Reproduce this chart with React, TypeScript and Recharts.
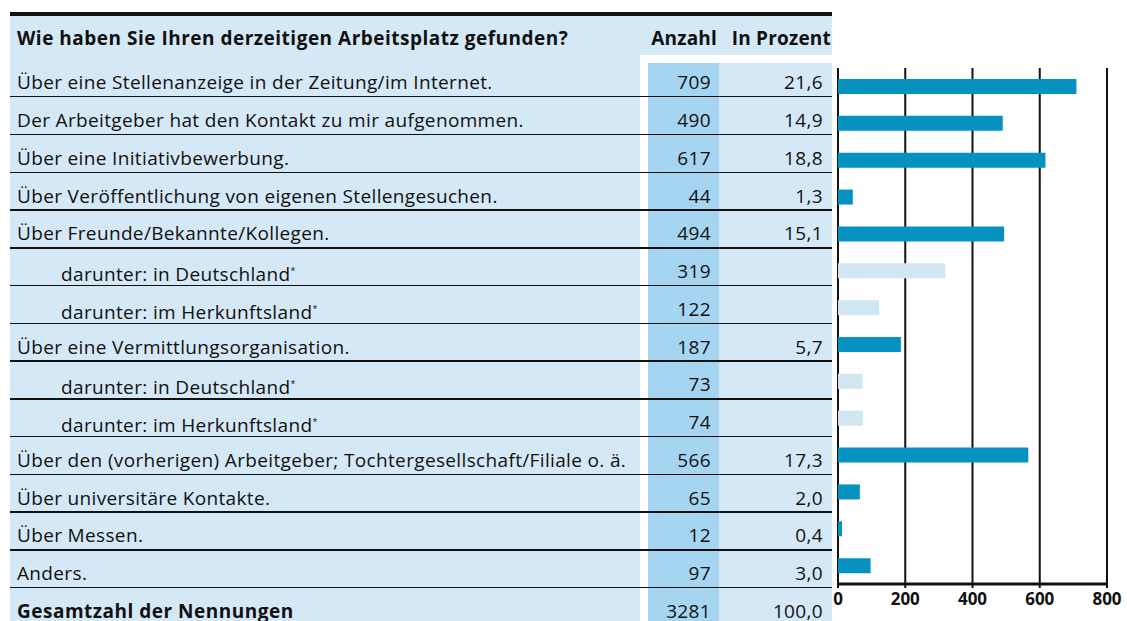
import { Bar, BarChart, CartesianGrid, Cell, XAxis, YAxis } from "recharts"

const question = "Wie haben Sie Ihren derzeitigen Arbeitsplatz gefunden?"
const labels = [
  "Über eine Stellenanzeige in der Zeitung/im Internet.",
  "Der Arbeitgeber hat den Kontakt zu mir aufgenommen.",
  "Über eine Initiativbewerbung.",
  "Über Veröffentlichung von eigenen Stellengesuchen.",
  "Über Freunde/Bekannte/Kollegen.",
  "darunter: in Deutschland",
  "darunter: im Herkunftsland",
  "Über eine Vermittlungsorganisation.",
  "darunter: in Deutschland",
  "darunter: im Herkunftsland",
  "Über den (vorherigen) Arbeitgeber; Tochtergesellschaft/Filiale o. ä.",
  "Über universitäre Kontakte.",
  "Über Messen.",
  "Anders.",
]
const counts = [709, 490, 617, 44, 494, 319, 122, 187, 73, 74, 566, 65, 12, 97]
const percents = ["21,6", "14,9", "18,8", "1,3", "15,1", "", "", "5,7", "", "", "17,3", "2,0", "0,4", "3,0"]
const isSub = [false, false, false, false, false, true, true, false, true, true, false, false, false, false]
const totalLabel = "Gesamtzahl der Nennungen"
const totalCount = "3281"
const totalPercent = "100,0"
const axisTicks = [0, 200, 400, 600, 800]

const FONT = "'Open Sans', sans-serif"
const LIGHT = "#d4e8f6"
const MID = "#a6d5f1"
const BAR = "#0592c0"
const BAR_SUB = "#d0e7f1"

const ROW0 = 59.2
const ROW_H = 37.77

const data = labels.map((label, i) => ({ id: i, label, value: counts[i], sub: isSub[i] }))

const txt = { position: "absolute", fontSize: 19, lineHeight: "26px", letterSpacing: 0.35, whiteSpace: "nowrap" } as const
const bold = { ...txt, fontWeight: 700, letterSpacing: 0.5 } as const

function Table() {
  const rowTop = (i: number) => ROW0 + ROW_H * i
  return (
    <div style={{ position: "absolute", left: 0, top: 0, width: 1127, height: 621, fontFamily: FONT, color: "#111" }}>
      {/* backgrounds */}
      <div style={{ position: "absolute", left: 10, top: 16, width: 822, height: 39, background: LIGHT }} />
      <div style={{ position: "absolute", left: 10, top: 55, width: 630, height: 566, background: LIGHT }} />
      <div style={{ position: "absolute", left: 648, top: 63, width: 71, height: 558, background: MID }} />
      <div style={{ position: "absolute", left: 719, top: 63, width: 113, height: 558, background: LIGHT }} />
      <div style={{ position: "absolute", left: 10, top: 12, width: 822, height: 4, background: "#111" }} />
      {/* header */}
      <div style={{ ...bold, left: 17, top: 25 }}>{question}</div>
      <div style={{ ...bold, right: 1127 - 717, top: 25, letterSpacing: 0.2 }}>Anzahl</div>
      <div style={{ ...bold, right: 1127 - 831, top: 25, letterSpacing: 0.2 }}>In Prozent</div>
      {labels.map((label, i) => (
        <div key={i}>
          <div style={{ ...txt, left: isSub[i] ? 61 : 17, top: rowTop(i) + 10 }}>
            {label}
            {isSub[i] && <sup style={{ fontSize: 9 }}>*</sup>}
          </div>
          <div style={{ ...txt, right: 1127 - 711, top: rowTop(i) + 10 }}>{counts[i]}</div>
          <div style={{ ...txt, right: 1127 - 823, top: rowTop(i) + 10 }}>{percents[i]}</div>
          <div style={{ position: "absolute", left: 10, top: rowTop(i + 1) - 1, width: 822, height: 1.5, background: "#111" }} />
        </div>
      ))}
      <div style={{ ...bold, left: 17, top: rowTop(14) + 10 }}>{totalLabel}</div>
      <div style={{ ...txt, right: 1127 - 711, top: rowTop(14) + 10 }}>{totalCount}</div>
      <div style={{ ...txt, right: 1127 - 823, top: rowTop(14) + 10 }}>{totalPercent}</div>
    </div>
  )
}

export default function App() {
  return (
    <div style={{ position: "absolute", left: 0, top: 0, width: 1127, height: 621, background: "#fff", overflow: "hidden" }}>
      <Table />
      <div style={{ position: "absolute", left: 0, top: 0 }}>
        <BarChart
          width={1127}
          height={621}
          data={data}
          layout="vertical"
          margin={{ top: 68, right: 20, bottom: 7, left: 838 }}
        >
          <CartesianGrid horizontal={false} stroke="#111" strokeWidth={2} />
          <XAxis
            type="number"
            domain={[0, 800]}
            ticks={axisTicks}
            height={30}
            axisLine={{ stroke: "#111", strokeWidth: 3 }}
            tickLine={{ stroke: "#111", strokeWidth: 2 }}
            tickSize={4}
            tickMargin={5}
            tick={{ fill: "#111", fontSize: 17, fontWeight: 700, fontFamily: FONT }}
          />
          <YAxis type="category" dataKey="id" hide width={0} />
          <Bar dataKey="value" barSize={15} isAnimationActive={false}>
            {data.map((d) => (
              <Cell key={d.id} fill={d.sub ? BAR_SUB : BAR} />
            ))}
          </Bar>
        </BarChart>
      </div>
    </div>
  )
}
